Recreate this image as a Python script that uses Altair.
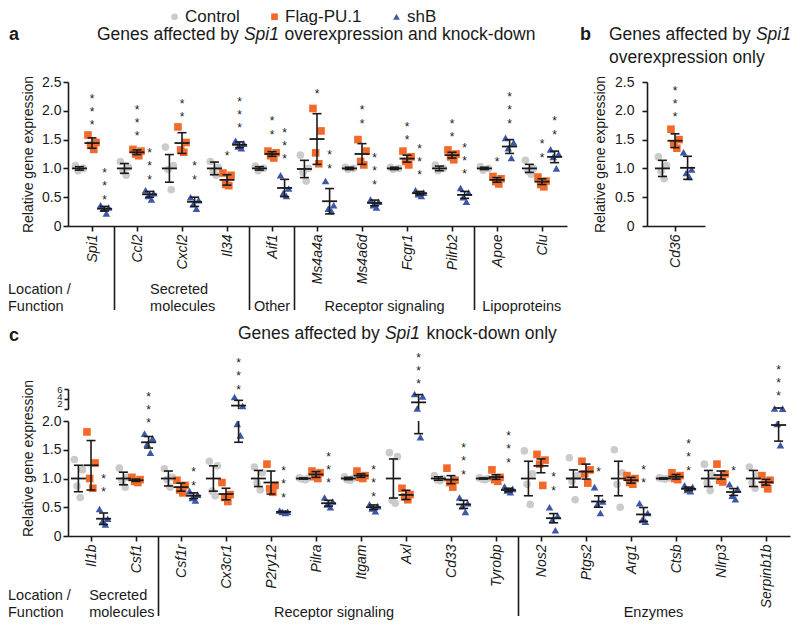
import json
import altair as alt
import pandas as pd

# ---------------- data ----------------
GROUPS = ["Control", "Flag-PU.1", "shB"]
COLORS = ["#cbcbcb", "#f26a2b", "#3d57a7"]
SHAPES = ["circle", "square", "triangle-up"]

# panel a
A_GENES = ["Spi1", "Ccl2", "Cxcl2", "Il34", "Aif1", "Ms4a4a", "Ms4a6d", "Fcgr1", "Pilrb2", "Apoe", "Clu"]
A_CTRL_MEAN = [1.0, 1.0, 1.0, 1.0, 1.0, 0.99, 1.0, 1.0, 1.0, 1.0, 1.0]
A_CTRL_SEM = [0.03, 0.085, 0.24, 0.11, 0.03, 0.15, 0.02, 0.02, 0.04, 0.02, 0.07]
A_CTRL_PTS = [[1.05, 1.0, 0.96], [1.12, 1.02, 0.95, 0.88], [1.37, 1.05, 0.98, 0.63], [1.12, 1.02, 0.95, 0.88],
              [1.04, 1.0, 0.96], [1.23, 1.0, 0.93, 0.78], [1.02, 1.0, 0.98], [1.02, 1.0, 0.98],
              [1.06, 1.0, 0.96], [1.03, 1.0, 0.97], [1.14, 1.0, 0.95, 0.9]]
A_FLAG_MEAN = [1.44, 1.28, 1.44, 0.8, 1.25, 1.51, 1.25, 1.17, 1.23, 0.8, 0.77]
A_FLAG_SEM = [0.09, 0.04, 0.18, 0.09, 0.04, 0.44, 0.18, 0.06, 0.05, 0.04, 0.05]
A_FLAG_PTS = [[1.58, 1.45, 1.4, 1.33], [1.33, 1.3, 1.25, 1.22], [1.72, 1.45, 1.32, 1.28], [0.92, 0.88, 0.72, 0.7],
              [1.3, 1.27, 1.22, 1.18], [2.04, 1.65, 1.27, 1.08], [1.5, 1.3, 1.12, 1.06], [1.3, 1.2, 1.12, 1.06],
              [1.32, 1.25, 1.2, 1.15], [0.86, 0.82, 0.77, 0.73], [0.85, 0.78, 0.72, 0.68]]
A_SHB_MEAN = [0.3, 0.55, 0.42, 1.41, 0.66, 0.43, 0.4, 0.57, 0.54, 1.38, 1.2]
A_SHB_SEM = [0.04, 0.05, 0.08, 0.05, 0.15, 0.22, 0.05, 0.03, 0.06, 0.12, 0.1]
A_SHB_PTS = [[0.36, 0.32, 0.3, 0.22], [0.62, 0.57, 0.52, 0.46], [0.5, 0.45, 0.38, 0.3], [1.48, 1.43, 1.38, 1.35],
             [0.88, 0.65, 0.57, 0.52], [0.78, 0.36, 0.3, 0.26], [0.46, 0.42, 0.36, 0.32], [0.62, 0.58, 0.55, 0.52],
             [0.66, 0.58, 0.5, 0.42], [1.53, 1.45, 1.35, 1.18], [1.33, 1.25, 1.2, 1.0]]
# (gene, group, number of stars, value of the lowest star)
A_STARS = [("Spi1", "Flag-PU.1", 3, 1.86), ("Spi1", "shB", 3, 0.57), ("Ccl2", "Flag-PU.1", 3, 1.67),
           ("Ccl2", "shB", 3, 0.92), ("Cxcl2", "Flag-PU.1", 2, 2.0), ("Cxcl2", "shB", 2, 0.92),
           ("Il34", "Flag-PU.1", 1, 1.32), ("Il34", "shB", 3, 1.81), ("Aif1", "Flag-PU.1", 2, 1.70),
           ("Aif1", "shB", 3, 1.27), ("Ms4a4a", "Flag-PU.1", 1, 2.40), ("Ms4a4a", "shB", 2, 1.11),
           ("Ms4a6d", "Flag-PU.1", 2, 1.89), ("Ms4a6d", "shB", 3, 0.83), ("Fcgr1", "Flag-PU.1", 2, 1.60),
           ("Fcgr1", "shB", 3, 0.99), ("Pilrb2", "Flag-PU.1", 2, 1.65), ("Pilrb2", "shB", 3, 1.01),
           ("Apoe", "Flag-PU.1", 1, 1.23), ("Apoe", "shB", 3, 1.89), ("Clu", "Flag-PU.1", 2, 1.30),
           ("Clu", "shB", 2, 1.70)]
A_SEPS = [0.5, 3.5, 4.5, 8.5]

# panel b
B_GENES = ["Cd36"]
B_CTRL_MEAN, B_CTRL_SEM, B_CTRL_PTS = [1.0], [0.14], [[1.2, 1.05, 0.95, 0.82]]
B_FLAG_MEAN, B_FLAG_SEM, B_FLAG_PTS = [1.48], [0.12], [[1.68, 1.5, 1.42, 1.35]]
B_SHB_MEAN, B_SHB_SEM, B_SHB_PTS = [1.01], [0.2], [[1.28, 0.98, 0.92, 0.85]]
B_STARS = [("Cd36", "Flag-PU.1", 3, 2.0)]

# panel c
C_GENES = ["Il1b", "Csf1", "Csf1r", "Cx3cr1", "P2ry12", "Pilra", "Itgam", "Axl", "Cd33", "Tyrobp",
           "Nos2", "Ptgs2", "Arg1", "Ctsb", "Nlrp3", "Serpinb1b"]
C_CTRL_MEAN = [1.0, 1.0, 1.0, 1.0, 1.0, 1.0, 1.0, 1.0, 1.0, 1.0, 1.0, 1.0, 1.0, 1.0, 1.0, 1.0]
C_CTRL_SEM = [0.23, 0.11, 0.13, 0.22, 0.14, 0.01, 0.02, 0.34, 0.03, 0.01, 0.3, 0.15, 0.3, 0.01, 0.14, 0.14]
C_CTRL_PTS = [[1.33, 1.15, 0.87, 0.67], [1.18, 1.02, 0.96, 0.85], [1.17, 1.02, 0.98, 0.85], [1.3, 1.22, 0.78, 0.7],
              [1.2, 1.1, 0.92, 0.8], [1.01, 1.0, 0.99, 0.98], [1.03, 1.0, 0.98, 0.97], [1.45, 1.38, 0.62, 0.57],
              [1.05, 1.0, 0.98, 0.96], [1.01, 1.0, 0.99, 0.98], [1.48, 1.08, 0.9, 0.55], [1.36, 1.05, 0.95, 0.63],
              [1.5, 1.1, 0.9, 0.5], [1.01, 1.0, 1.0, 0.99], [1.25, 1.05, 0.92, 0.79], [1.2, 1.05, 0.93, 0.83]]
C_FLAG_MEAN = [1.23, 0.97, 0.85, 0.73, 0.93, 1.07, 1.05, 0.715, 0.98, 1.025, 1.22, 1.12, 0.97, 1.03, 1.06, 0.935]
C_FLAG_SEM = [0.43, 0.02, 0.07, 0.1, 0.2, 0.05, 0.03, 0.08, 0.07, 0.04, 0.12, 0.13, 0.05, 0.04, 0.07, 0.05]
C_FLAG_PTS = [[1.81, 1.27, 1.0, 0.83], [1.02, 0.98, 0.95, 0.93], [0.97, 0.88, 0.8, 0.75], [0.93, 0.72, 0.67, 0.6],
              [1.25, 0.88, 0.82, 0.76], [1.13, 1.1, 1.03, 1.0], [1.13, 1.05, 1.02, 1.0], [0.83, 0.72, 0.68, 0.63],
              [1.18, 0.97, 0.93, 0.85], [1.15, 1.02, 0.98, 0.95], [1.42, 1.32, 1.25, 0.88], [1.3, 1.15, 1.08, 0.92],
              [1.05, 1.0, 0.93, 0.9], [1.1, 1.05, 1.0, 0.98], [1.25, 1.08, 0.97, 0.94], [1.05, 0.97, 0.9, 0.82]]
C_SHB_MEAN = [0.3, 1.63, 0.7, 2.68, 0.42, 0.57, 0.5, 3.33, 0.55, 0.8, 0.31, 0.6, 0.375, 0.82, 0.765, 1.93]
C_SHB_SEM = [0.1, 0.1, 0.05, 1.05, 0.01, 0.05, 0.04, 1.55, 0.07, 0.03, 0.08, 0.1, 0.12, 0.03, 0.06, 0.28]
C_SHB_PTS = [[0.47, 0.3, 0.25, 0.2], [1.78, 1.7, 1.6, 1.45], [0.78, 0.72, 0.66, 0.62], [4.4, 2.6, 1.95, 1.75],
             [0.44, 0.42, 0.42, 0.4], [0.67, 0.6, 0.55, 0.5], [0.55, 0.52, 0.48, 0.43], [5.0, 4.5, 2.1, 1.72],
             [0.67, 0.57, 0.52, 0.42], [0.86, 0.82, 0.79, 0.76], [0.5, 0.35, 0.28, 0.1], [0.85, 0.6, 0.55, 0.4],
             [0.57, 0.4, 0.28, 0.25], [0.88, 0.85, 0.8, 0.78], [0.9, 0.82, 0.7, 0.64], [2.1, 2.08, 1.95, 1.58]]
C_STARS = [("Il1b", "shB", 2, 0.87), ("Csf1", "shB", 3, 2.07), ("Csf1r", "shB", 2, 0.99),
           ("Cx3cr1", "shB", 3, 2.66), ("P2ry12", "shB", 3, 0.78), ("Pilra", "shB", 3, 1.03),
           ("Itgam", "shB", 3, 0.80), ("Axl", "shB", 3, 2.75), ("Cd33", "shB", 3, 1.18),
           ("Tyrobp", "shB", 3, 1.39), ("Nos2", "shB", 2, 0.90), ("Ptgs2", "shB", 1, 1.23),
           ("Arg1", "shB", 2, 1.03), ("Ctsb", "shB", 3, 1.25), ("Nlrp3", "shB", 1, 1.25),
           ("Serpinb1b", "shB", 3, 2.54)]
C_SEPS = [1.5, 9.5]
BREAK = 2.0

# ---------------- style / helpers ----------------
FONT = "Liberation Sans"
INK = "#1a1a1a"
OFFS = {"Control": -0.28, "Flag-PU.1": 0.0, "shB": 0.28}
DX = [-0.09, 0.09, -0.03, 0.04]
STAR_STEP = 0.232


def frames(genes, means, sems, pts):
    srows, prows = [], []
    for g in GROUPS:
        for i, gene in enumerate(genes):
            m, s = means[g][i], sems[g][i]
            x = i + OFFS[g]
            srows.append({"gene": gene, "group": g, "pos": x, "mean": m, "lo": m - s, "hi": m + s})
            for k, v in enumerate(pts[g][i]):
                prows.append({"gene": gene, "group": g, "pos": x + DX[k % len(DX)], "value": v})
    return pd.DataFrame(srows), pd.DataFrame(prows)


def star_frame(genes, stars):
    rows = []
    for gene, grp, n, ylow in stars:
        for j in range(n):
            rows.append({"pos": genes.index(gene) + OFFS[grp], "y": ylow + j * STAR_STEP})
    return pd.DataFrame(rows)


def caps_of(summ):
    return pd.concat([summ.assign(v=summ["lo"]), summ.assign(v=summ["hi"])])[["pos", "v"]]


LEGEND = alt.Legend(orient="none", legendX=98, legendY=0, direction="horizontal", title=None,
                    labelFontSize=17, labelFont=FONT, labelColor=INK, symbolSize=45,
                    symbolStrokeWidth=0, columnPadding=26, labelOffset=2, padding=0, symbolOpacity=1)

AX = dict(grid=False, domainColor=INK, tickColor=INK, labelColor=INK, titleColor=INK,
          domainWidth=1.6, tickWidth=1.6, labelFont=FONT, titleFont=FONT,
          labelFlush=False, labelOverlap=False)
YLAB = "datum.value == 0 ? '0' : format(datum.value, '.1f')"


def yaxis(values, **kw):
    base = dict(orient="left", values=values, labelExpr=YLAB, tickSize=5, labelPadding=2,
                labelFontSize=14, title="Relative gene expression", titleFontSize=14,
                titleFontWeight="normal", titlePadding=6)
    base.update(kw)
    return alt.Axis(**base, **AX)


def xaxis(genes, offset):
    return alt.Axis(orient="bottom", offset=offset, values=list(range(len(genes))),
                    labelExpr=json.dumps(genes) + "[datum.value]", labelAngle=270,
                    labelFontSize=14, labelFontStyle="italic", tickSize=5, labelPadding=3,
                    title=None, **AX)


def ex(field, sc, axis):
    return alt.X(field, type="quantitative", scale=sc, axis=axis)


def ey(field, sc, axis):
    return alt.Y(field, type="quantitative", scale=sc, axis=axis)


def data_layers(rules, capdf, means, pts, stars, xsc, ysc, xax, yax):
    layers = [
        alt.Chart(pts).mark_point(filled=True, size=58, opacity=1, strokeWidth=0).encode(
            x=ex("pos", xsc, xax), y=ey("value", ysc, yax),
            color=alt.Color("group:N", scale=alt.Scale(domain=GROUPS, range=COLORS), legend=LEGEND),
            shape=alt.Shape("group:N", scale=alt.Scale(domain=GROUPS, range=SHAPES), legend=LEGEND)),
        alt.Chart(rules).mark_rule(color=INK, strokeWidth=1.6).encode(
            x=ex("pos", xsc, xax), y=ey("y1", ysc, yax), y2=alt.Y2("y2")),
        alt.Chart(capdf).mark_tick(orient="horizontal", size=9, thickness=1.6, color=INK, opacity=1).encode(
            x=ex("pos", xsc, xax), y=ey("v", ysc, yax)),
        alt.Chart(means).mark_tick(orient="horizontal", size=15, thickness=1.8, color=INK, opacity=1).encode(
            x=ex("pos", xsc, xax), y=ey("mean", ysc, yax)),
    ]
    if stars is not None:
        layers.append(alt.Chart(stars).mark_text(text="*", fontSize=12, dy=6.5, color=INK, font=FONT).encode(
            x=ex("pos", xsc, xax), y=ey("y", ysc, yax)))
    return layers


def seps_layer(seps, xsc, xax, y0, y1):
    return alt.Chart(pd.DataFrame({"pos": seps})).mark_rule(color=INK, strokeWidth=1.6).encode(
        x=ex("pos", xsc, xax), y=alt.value(y0), y2=alt.value(y1))


def glabel(text, pos, y, xsc, xax, align="center"):
    return alt.Chart(pd.DataFrame({"pos": [pos]})).mark_text(
        text=text, align=align, baseline="alphabetic", fontSize=14.5, font=FONT, color=INK).encode(
        x=ex("pos", xsc, xax), y=alt.value(y))


def ftext(text, x, y, size=17.5, style="normal", weight="normal", align="left"):
    return alt.Chart(alt.Data(values=[{}])).mark_text(
        text=text, fontSize=size, fontStyle=style, fontWeight=weight, align=align,
        baseline="alphabetic", color=INK, font=FONT).encode(x=alt.value(x), y=alt.value(y))


# ---------------- panel a ----------------
xA = alt.Scale(domain=[-24 / 45, 475 / 45], range=[0, 499], nice=False, zero=False)
yA = alt.Scale(domain=[0, 2.5], range=[218, 74], nice=False, zero=False)
xaxA = xaxis(A_GENES, -310)
yaxA = yaxis([0, 0.5, 1, 1.5, 2, 2.5])
sA, pA = frames(A_GENES, {"Control": A_CTRL_MEAN, "Flag-PU.1": A_FLAG_MEAN, "shB": A_SHB_MEAN},
                {"Control": A_CTRL_SEM, "Flag-PU.1": A_FLAG_SEM, "shB": A_SHB_SEM},
                {"Control": A_CTRL_PTS, "Flag-PU.1": A_FLAG_PTS, "shB": A_SHB_PTS})
rA = sA.assign(y1=sA["lo"], y2=sA["hi"])
panelA = alt.layer(
    *data_layers(rA, caps_of(sA), sA, pA, star_frame(A_GENES, A_STARS), xA, yA, xaxA, yaxA),
    seps_layer(A_SEPS, xA, xaxA, 218, 302),
    glabel("Secreted", 1.29, 286, xA, xaxA, "left"),
    glabel("molecules", 1.29, 303, xA, xaxA, "left"),
    glabel("Other", 4.0, 303, xA, xaxA),
    glabel("Receptor signaling", 6.5, 303, xA, xaxA),
    glabel("Lipoproteins", 9.55, 303, xA, xaxA),
)

# ---------------- panel b ----------------
xB = alt.Scale(domain=[-28 / 45, 30 / 45], range=[579, 637], nice=False, zero=False)
xaxB = xaxis(B_GENES, -310)
yaxB = yaxis([0, 0.5, 1, 1.5, 2, 2.5], offset=-579, labelPadding=8, titlePadding=7)
sB, pB = frames(B_GENES, {"Control": B_CTRL_MEAN, "Flag-PU.1": B_FLAG_MEAN, "shB": B_SHB_MEAN},
                {"Control": B_CTRL_SEM, "Flag-PU.1": B_FLAG_SEM, "shB": B_SHB_SEM},
                {"Control": B_CTRL_PTS, "Flag-PU.1": B_FLAG_PTS, "shB": B_SHB_PTS})
rB = sB.assign(y1=sB["lo"], y2=sB["hi"])
panelB = alt.layer(
    *data_layers(rB, caps_of(sB), sB, pB, star_frame(B_GENES, B_STARS), xB, yA, xaxB, yaxB),
)

# ---------------- panel c (broken axis) ----------------
xC = alt.Scale(domain=[-23 / 45, 699 / 45], range=[0, 722], nice=False, zero=False)
yCl = alt.Scale(domain=[0, 2], range=[528, 413], nice=False, zero=False)
yCu = alt.Scale(domain=[2, 6], range=[401, 381], nice=False, zero=False)
xaxC = xaxis(C_GENES, 0)
yaxCl = yaxis([0, 0.5, 1, 1.5, 2], titleY=450)
yaxCu = alt.Axis(orient="left", values=[2, 4, 6], labelExpr="format(datum.value, 'd')", tickSize=4,
                 labelPadding=2, labelFontSize=9.5, title=None,
                 labelOffset={"condition": [{"test": "datum.value == 2", "value": -6},
                                            {"test": "datum.value == 4", "value": -3}], "value": 0},
                 **AX)
sC, pC = frames(C_GENES, {"Control": C_CTRL_MEAN, "Flag-PU.1": C_FLAG_MEAN, "shB": C_SHB_MEAN},
                {"Control": C_CTRL_SEM, "Flag-PU.1": C_FLAG_SEM, "shB": C_SHB_SEM},
                {"Control": C_CTRL_PTS, "Flag-PU.1": C_FLAG_PTS, "shB": C_SHB_PTS})
capsC = caps_of(sC)
low = sC[sC["lo"] < BREAK]
rCl = low.assign(y1=low["lo"].clip(lower=0), y2=low["hi"].clip(upper=BREAK))
up = sC[sC["hi"] > BREAK]
rCu = up.assign(y1=up["lo"].clip(lower=BREAK), y2=up["hi"])

panelCu = alt.layer(
    *data_layers(rCu, capsC[capsC["v"] > BREAK], sC[sC["mean"] > BREAK], pC[pC["value"] > BREAK], None,
                 xC, yCu, None, yaxCu),
)
panelCl = alt.layer(
    *data_layers(rCl, capsC[capsC["v"] <= BREAK], sC[sC["mean"] <= BREAK], pC[pC["value"] <= BREAK],
                 star_frame(C_GENES, C_STARS), xC, yCl, xaxC, yaxCl),
    seps_layer(C_SEPS, xC, xaxC, 528, 608),
    glabel("Secreted", -0.04, 592, xC, xaxC, "left"),
    glabel("molecules", -0.04, 609, xC, xaxC, "left"),
    glabel("Receptor signaling", 5.4, 609, xC, xaxC),
    glabel("Enzymes", 12.5, 609, xC, xaxC),
)

# ---------------- titles ----------------
texts = [
    ftext("a", -59, 32, size=18, weight="bold"),
    ftext("Genes affected by", 29, 32),
    ftext("Spi1", 175.9, 32, style="italic"),
    ftext("overexpression and knock-down", 216.5, 32),
    ftext("b", 512, 32, size=18, weight="bold"),
    ftext("Genes affected by", 541, 32),
    ftext("Spi1", 687.9, 32, style="italic"),
    ftext("overexpression only", 541, 55),
    ftext("c", -59, 333, size=18, weight="bold"),
    ftext("Genes affected by", 170, 331),
    ftext("Spi1", 316.9, 331, style="italic"),
    ftext("knock-down only", 358.5, 331),
    ftext("Location /", -60, 286, size=14.5),
    ftext("Function", -60, 303, size=14.5),
    ftext("Location /", -60, 592, size=14.5),
    ftext("Function", -60, 609, size=14.5),
]

chart = alt.layer(panelA, panelB, panelCu, panelCl, *texts).resolve_scale(
    x="independent", y="independent"
).properties(
    width=722, height=528,
    padding={"left": 60, "top": 0, "right": 2, "bottom": 84},
    autosize=alt.AutoSizeParams(type="none"),
).configure(font=FONT).configure_view(stroke=None)

chart.save("out.html", embed_options={"renderer": "svg", "actions": False})
